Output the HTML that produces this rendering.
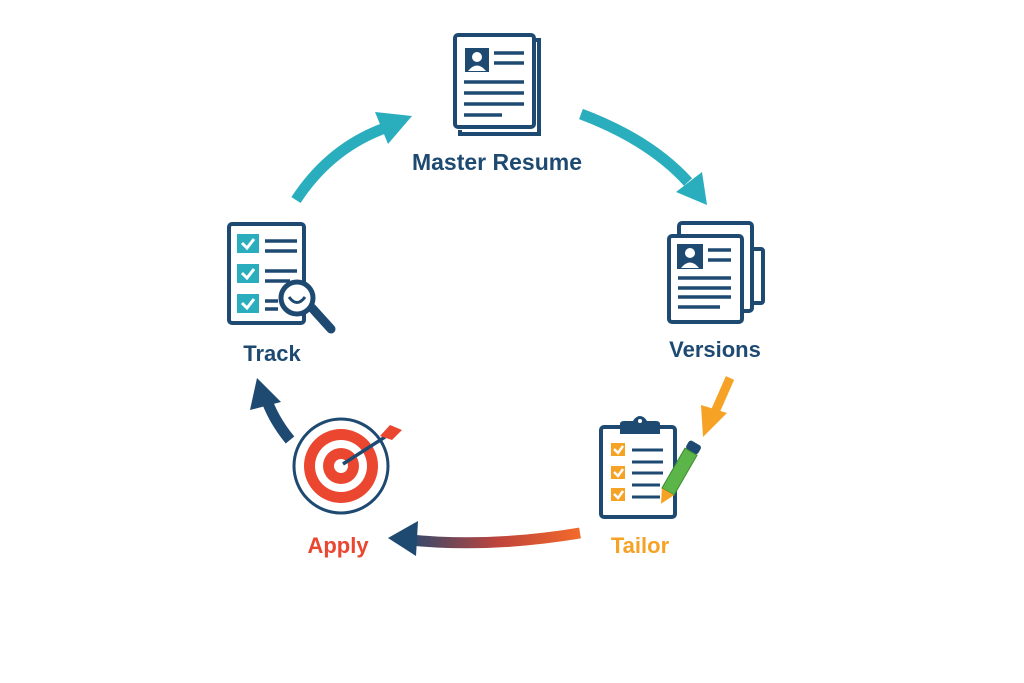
<!DOCTYPE html>
<html><head><meta charset="utf-8"><style>
body{margin:0;background:#fff;}
svg{display:block}
text{font-family:"Liberation Sans",sans-serif;font-weight:bold;text-anchor:middle}
</style></head><body>
<svg width="1024" height="683" viewBox="0 0 1024 683" xmlns="http://www.w3.org/2000/svg">
<defs>
<linearGradient id="g1" x1="580" y1="0" x2="400" y2="0" gradientUnits="userSpaceOnUse">
<stop offset="0" stop-color="#f26a2a"/><stop offset="0.45" stop-color="#c0443c"/><stop offset="1" stop-color="#1e4a72"/></linearGradient>
</defs>
<g fill="none" stroke-linecap="butt">
<!-- top-left teal -->
<path d="M296 200 Q330 148 385 128" stroke="#2aaebe" stroke-width="11"/>
<polygon points="412,116 375,112 388,144" fill="#2aaebe"/>
<!-- top-right teal -->
<path d="M581 114 Q650 140 688 182" stroke="#2aaebe" stroke-width="11"/>
<polygon points="707,205 676,192 702,172" fill="#2aaebe"/>
<!-- orange -->
<path d="M730 378 L715 412" stroke="#f6a225" stroke-width="9"/>
<polygon points="703,437 701,405 727,413" fill="#f6a225"/>
<!-- gradient bottom -->
<path d="M580 533 Q490 548 410 540" stroke="url(#g1)" stroke-width="11"/>
<polygon points="388,538 418,521 416,556" fill="#1e4a72"/>
<!-- navy up -->
<path d="M290 440 Q272 418 265 395" stroke="#1e4a72" stroke-width="11"/>
<polygon points="257,378 250,410 281,402" fill="#1e4a72"/>
</g>
<!-- Master Resume -->
<g stroke="#1e4a72" fill="#fff" stroke-width="4">
<path d="M534 40 L539 40 L539 134 L460 134 L460 130" fill="none"/>
<rect x="455" y="35" width="79" height="92" rx="3"/>
</g>
<rect x="465" y="48" width="24" height="24" fill="#1e4a72"/>
<circle cx="477" cy="57" r="5" fill="#fff"/><path d="M468 71 Q477 60 486 71Z" fill="#fff"/>
<g stroke="#1e4a72" stroke-width="3.5"><line x1="494" y1="53" x2="524" y2="53"/><line x1="494" y1="63" x2="524" y2="63"/><line x1="464" y1="82" x2="524" y2="82"/><line x1="464" y1="93" x2="524" y2="93"/><line x1="464" y1="104" x2="524" y2="104"/><line x1="464" y1="115" x2="502" y2="115"/></g>
<text x="497" y="170" font-size="23" fill="#1e4a72">Master Resume</text>
<!-- Versions -->
<g stroke="#1e4a72" fill="#fff" stroke-width="4">
<rect x="751" y="249" width="12" height="54" rx="2"/>
<rect x="679" y="223" width="73" height="88" rx="3"/>
<rect x="669" y="236" width="73" height="86" rx="3"/>
</g>
<rect x="677" y="244" width="26" height="25" fill="#1e4a72"/>
<circle cx="690" cy="253" r="5" fill="#fff"/><path d="M681 268 Q690 257 699 268Z" fill="#fff"/>
<g stroke="#1e4a72" stroke-width="3.5"><line x1="708" y1="250" x2="731" y2="250"/><line x1="708" y1="260" x2="731" y2="260"/><line x1="678" y1="278" x2="731" y2="278"/><line x1="678" y1="288" x2="731" y2="288"/><line x1="678" y1="297" x2="731" y2="297"/><line x1="678" y1="307" x2="720" y2="307"/></g>
<text x="715" y="357" font-size="22" fill="#1e4a72">Versions</text>
<!-- Tailor -->
<rect x="601" y="427" width="74" height="90" rx="3" fill="#fff" stroke="#1e4a72" stroke-width="4"/>
<path d="M620 434 L620 424 Q620 421 624 421 L633 421 Q636 416 640 416 Q644 416 647 421 L656 421 Q660 421 660 424 L660 434Z" fill="#1e4a72"/>
<circle cx="640" cy="421" r="2" fill="#fff"/>
<g fill="#f6a225"><rect x="611" y="443" width="14" height="13"/><rect x="611" y="466" width="14" height="13"/><rect x="611" y="488" width="14" height="13"/></g>
<g stroke="#fff" stroke-width="2.5" fill="none"><path d="M614 449 l4 4 l5 -7"/><path d="M614 472 l4 4 l5 -7"/><path d="M614 494 l4 4 l5 -7"/></g>
<g stroke="#1e4a72" stroke-width="3"><line x1="632" y1="450" x2="663" y2="450"/><line x1="632" y1="462" x2="663" y2="462"/><line x1="632" y1="473" x2="663" y2="473"/><line x1="632" y1="485" x2="660" y2="485"/><line x1="632" y1="497" x2="660" y2="497"/></g>
<g transform="translate(692,450) rotate(30)">
<rect x="-7" y="-8" width="14" height="10" rx="3" fill="#1e4a72"/>
<rect x="-7" y="2" width="14" height="46" fill="#5cb548" stroke="#3d8a32" stroke-width="1"/>
<polygon points="-7,48 7,48 0,62" fill="#f6a225"/>
</g>
<text x="640" y="553" font-size="22" fill="#f6a225">Tailor</text>
<!-- Apply target -->
<circle cx="341" cy="466" r="47" fill="#fff" stroke="#1e4a72" stroke-width="3"/>
<circle cx="341" cy="466" r="37" fill="#ea4630"/>
<circle cx="341" cy="466" r="26" fill="#fff"/>
<circle cx="341" cy="466" r="18" fill="#ea4630"/>
<circle cx="341" cy="466" r="7" fill="#fff"/>
<line x1="343" y1="464" x2="385" y2="437" stroke="#1e4a72" stroke-width="3.5"/>
<polygon points="380,436 390,425 402,430 392,440" fill="#ea4630"/>
<text x="338" y="553" font-size="22" fill="#ea4630">Apply</text>
<!-- Track -->
<rect x="229" y="224" width="75" height="99" rx="3" fill="#fff" stroke="#1e4a72" stroke-width="4"/>
<g fill="#2aaebe"><rect x="237" y="234" width="22" height="19"/><rect x="237" y="264" width="22" height="19"/><rect x="237" y="294" width="22" height="19"/></g>
<g stroke="#fff" stroke-width="3" fill="none"><path d="M242 243 l5 5 l7 -9"/><path d="M242 273 l5 5 l7 -9"/><path d="M242 303 l5 5 l7 -9"/></g>
<g stroke="#1e4a72" stroke-width="3.5"><line x1="265" y1="241" x2="297" y2="241"/><line x1="265" y1="251" x2="297" y2="251"/><line x1="265" y1="271" x2="297" y2="271"/><line x1="265" y1="281" x2="290" y2="281"/><line x1="265" y1="301" x2="278" y2="301"/><line x1="265" y1="309" x2="278" y2="309"/></g>
<line x1="312" y1="308" x2="331" y2="329" stroke="#1e4a72" stroke-width="9" stroke-linecap="round"/>
<circle cx="297" cy="298" r="16" fill="#fff" stroke="#1e4a72" stroke-width="5"/>
<path d="M289 297 Q297 308 305 297" stroke="#1e4a72" stroke-width="3" fill="none"/>
<text x="272" y="361" font-size="22" fill="#1e4a72">Track</text>
</svg>
</body></html>
